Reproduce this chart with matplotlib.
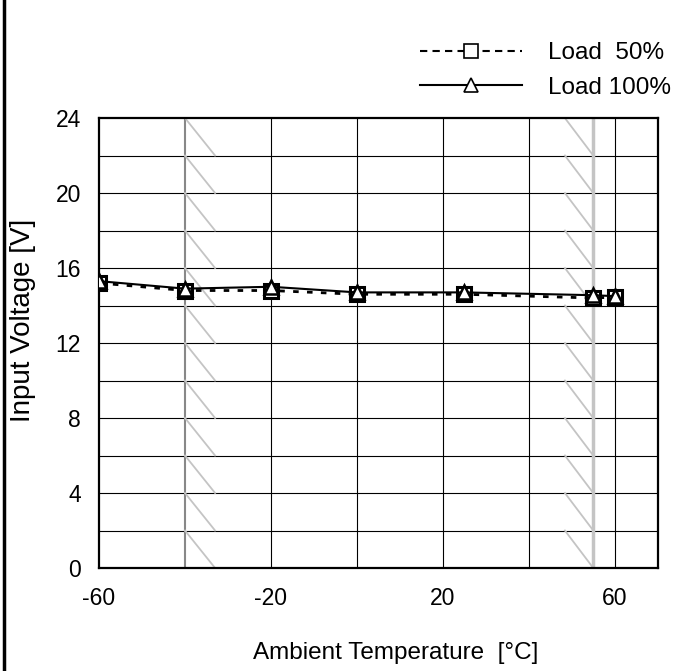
import numpy as np
import matplotlib
matplotlib.use("Agg")
import matplotlib.pyplot as plt
from matplotlib.lines import Line2D

plt.rcParams["font.family"] = ["Liberation Sans", "DejaVu Sans"]
plt.rcParams["axes.unicode_minus"] = False

# ambient temperature [deg C] and measured input voltage [V]
TEMPS = [-60, -40, -20, 0, 25, 55, 60]
LOAD_50 = [15.2, 14.8, 14.8, 14.6, 14.6, 14.4, 14.45]
LOAD_100 = [15.3, 14.9, 15.0, 14.7, 14.7, 14.55, 14.5]

X_TICKS = [-60, -20, 20, 60]
X_GRID = [-40, -20, 0, 20, 40, 60]
Y_TICKS = [0, 4, 8, 12, 16, 20, 24]
LOW_LIMIT = -40   # operating range borders
HIGH_LIMIT = 55

fig = plt.figure(figsize=(6.83, 6.71), dpi=100)
ax = fig.add_axes([0.145, 0.1535, 0.818, 0.6706])

ax.set_xlim(-60, 70)
ax.set_ylim(0, 24)

# grid
for x in X_GRID:
    if x != LOW_LIMIT:
        ax.axvline(x, color="black", lw=0.8, zorder=1)
for y in np.arange(2, 24, 2):
    ax.axhline(y, color="black", lw=0.8, zorder=1)

# range borders with hatch marks
ax.axvline(LOW_LIMIT, color="#888888", lw=1.5, zorder=1)
ax.axvline(HIGH_LIMIT, color="#c4c4c4", lw=2.5, zorder=1)
for y in np.arange(24, 0, -2):
    ax.plot([LOW_LIMIT, LOW_LIMIT + 7], [y, y - 2], color="#c4c4c4", lw=1.3, zorder=1)
    ax.plot([HIGH_LIMIT - 6.6, HIGH_LIMIT], [y, y - 2], color="#c4c4c4", lw=1.3, zorder=1)

ax.plot(TEMPS, LOAD_50, color="black", lw=2.0, ls=(0, (2.0, 3.0)),
        marker="s", ms=10, mfc="white", mec="black", mew=2.2, zorder=3)
ax.plot(TEMPS, LOAD_100, color="black", lw=1.5, ls="-",
        marker="^", ms=10, mfc="white", mec="black", mew=1.8, zorder=4)

ax.set_xticks(X_TICKS)
ax.set_yticks(Y_TICKS)
ax.tick_params(axis="both", length=0, labelsize=16.5)
ax.tick_params(axis="x", pad=14)
ax.tick_params(axis="y", pad=13)
for s in ax.spines.values():
    s.set_linewidth(1.6)
    s.set_color("black")

fig.text(0.033, 0.523, "Input Voltage [V]", fontsize=20, rotation=90,
         ha="center", va="center")
fig.text(0.58, 0.027, "Ambient Temperature  [°C]", fontsize=17.5, ha="center", va="center")

handles = [
    Line2D([], [], color="black", lw=1.5, ls=(0, (3.5, 2.5)), marker="s", ms=10,
           mfc="white", mec="black", mew=1.2),
    Line2D([], [], color="black", lw=1.5, ls="-", marker="^", ms=10,
           mfc="white", mec="black", mew=1.2),
]
fig.legend(handles, ["Load  50%", "Load 100%"], loc="upper right",
           bbox_to_anchor=(1.0, 0.955), frameon=False, fontsize=17.5,
           handlelength=4.2, handletextpad=1.05, labelspacing=0.5, borderpad=0)

# left frame edge
fig.add_artist(Line2D([0.006, 0.006], [0, 1], transform=fig.transFigure,
                      color="black", lw=2.5))

fig.savefig("out.png", dpi=100)
